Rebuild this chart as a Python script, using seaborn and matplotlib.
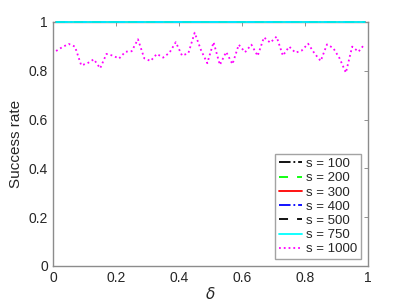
import numpy as np
import pandas as pd
import seaborn as sns
import matplotlib
matplotlib.use('Agg')
import matplotlib.pyplot as plt

# delta grid used for every curve
delta = [0.01, 0.03, 0.05, 0.07, 0.09, 0.11, 0.13, 0.15, 0.17, 0.19,
         0.21, 0.23, 0.25, 0.27, 0.29, 0.31, 0.33, 0.35, 0.37, 0.39,
         0.41, 0.43, 0.45, 0.47, 0.49, 0.51, 0.53, 0.55, 0.57, 0.59,
         0.61, 0.63, 0.65, 0.67, 0.69, 0.71, 0.73, 0.75, 0.77, 0.79,
         0.81, 0.83, 0.85, 0.87, 0.89, 0.91, 0.93, 0.95, 0.97, 0.99]

s100 = [1.0] * 50
s200 = [1.0] * 50
s300 = [1.0] * 50
s400 = [1.0] * 50
s500 = [1.0] * 50
s750 = [1.0] * 50
s1000 = [0.881, 0.897, 0.910, 0.899, 0.822, 0.831, 0.847, 0.810, 0.869, 0.862,
         0.850, 0.878, 0.880, 0.929, 0.851, 0.840, 0.869, 0.854, 0.874, 0.917,
         0.862, 0.872, 0.956, 0.885, 0.831, 0.917, 0.824, 0.877, 0.827, 0.907,
         0.876, 0.907, 0.861, 0.937, 0.915, 0.940, 0.862, 0.899, 0.874, 0.883,
         0.911, 0.872, 0.840, 0.908, 0.893, 0.851, 0.792, 0.899, 0.878, 0.910]

labels = ['s = 100', 's = 200', 's = 300', 's = 400', 's = 500', 's = 750', 's = 1000']
series = [s100, s200, s300, s400, s500, s750, s1000]
colors = ['black', '#00ff00', 'red', 'blue', 'black', 'cyan', 'magenta']
styles = ['-.', (0, (5, 5)), '-', '-.', (0, (5, 5)), '-', ':']

sns.set_style('white')
plt.rcParams['font.family'] = ['Liberation Sans', 'DejaVu Sans']

fig = plt.figure(figsize=(4.07, 3.05), dpi=100)
ax = fig.add_axes([0.130, 0.128, 0.774, 0.800])

for vals, lab, c, ls in zip(series, labels, colors, styles):
    sns.lineplot(x=delta, y=vals, ax=ax, color=c, linestyle=ls, linewidth=1.3,
                 label=lab, estimator=None, clip_on=False, zorder=3)

ax.set_xlim(0, 1)
ax.set_ylim(0, 1)
ax.set_xticks([0, 0.2, 0.4, 0.6, 0.8, 1])
ax.set_xticklabels(['0', '0.2', '0.4', '0.6', '0.8', '1'])
ax.set_yticks([0, 0.2, 0.4, 0.6, 0.8, 1])
ax.set_yticklabels(['0', '0.2', '0.4', '0.6', '0.8', '1'])
ax.tick_params(direction='in', length=3, width=0.6, colors='#7f7f7f',
               labelcolor='#262626', labelsize=10, top=True, right=True)
for sp in ax.spines.values():
    sp.set_visible(True)
    sp.set_color('#8c8c8c')
    sp.set_linewidth(1.0)

ax.set_xlabel(r'$\delta$', fontsize=11, color='#262626', labelpad=1)
ax.set_ylabel('Success rate', fontsize=11, color='#262626')

leg = ax.legend(loc='lower right', fontsize=9.5, handlelength=1.75, handletextpad=0.3,
                labelspacing=0.15, borderpad=0.3, borderaxespad=0.5, frameon=True,
                fancybox=False)
leg.get_frame().set_edgecolor('#8c8c8c')
leg.get_frame().set_linewidth(1.0)

fig.savefig('out.png', dpi=100)
